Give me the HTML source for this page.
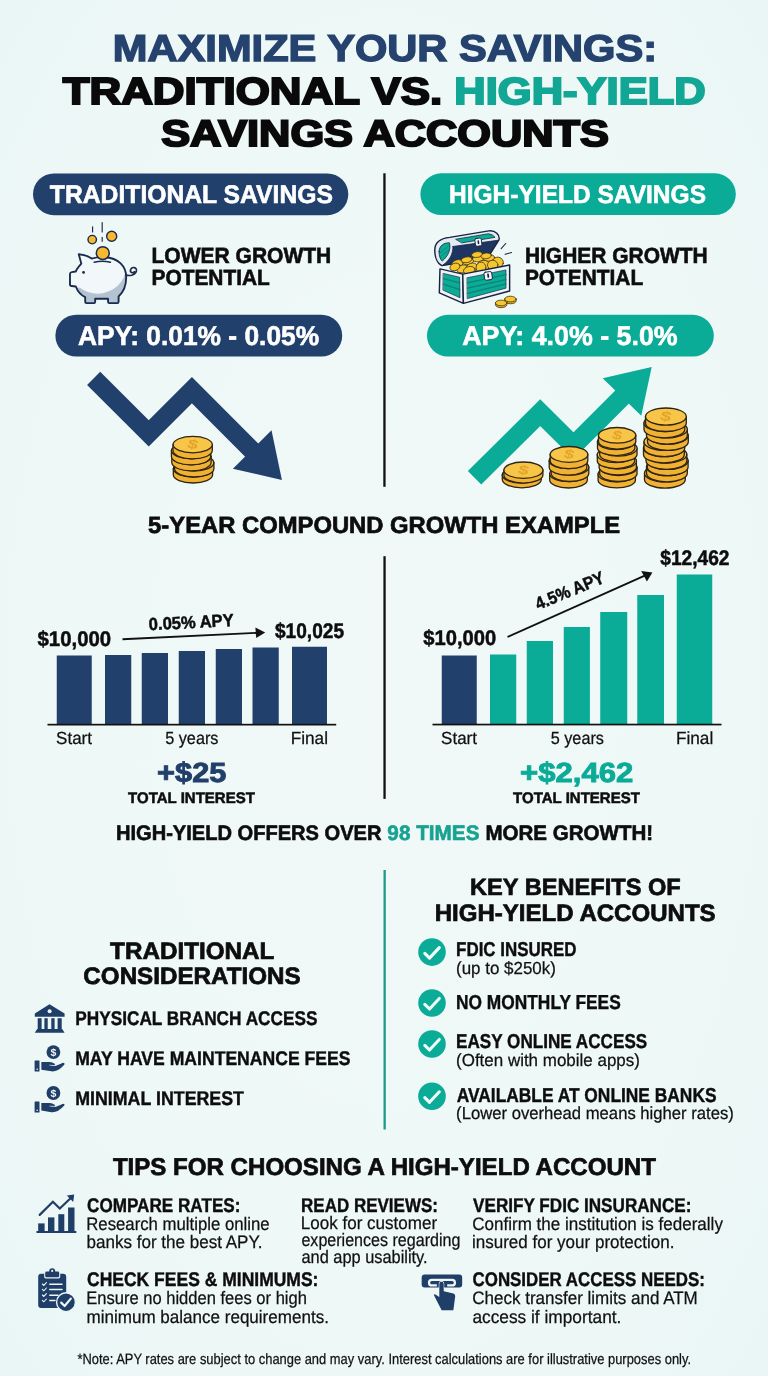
<!DOCTYPE html>
<html lang="en"><head><meta charset="utf-8"><title>Maximize Your Savings: Traditional vs. High-Yield Savings Accounts</title>
<style>html,body{margin:0;padding:0;background:#ebf5f6;}body{width:768px;height:1376px;overflow:hidden;font-family:"Liberation Sans", sans-serif;}svg text{white-space:pre;}</style>
</head><body>
<svg width="768" height="1376" viewBox="0 0 768 1376" font-family='"Liberation Sans", sans-serif' style="display:block;text-rendering:geometricPrecision">
<defs>
<radialGradient id="bg" cx="50%" cy="50%" r="75%">
<stop offset="0" stop-color="#f0f9f8"/><stop offset="0.6" stop-color="#eef8f7"/><stop offset="1" stop-color="#e9f5f5"/>
</radialGradient>
</defs>
<rect width="768" height="1376" fill="url(#bg)"/>
<text x="112.89" y="60.80" font-size="37.35" font-weight="bold" fill="#25436e" textLength="544.13" lengthAdjust="spacingAndGlyphs" stroke="#25436e" stroke-width="1.4" stroke-linejoin="miter" stroke-miterlimit="2.5">MAXIMIZE YOUR SAVINGS:</text>
<text x="62.66" y="103.60" font-size="37.65" font-weight="bold" fill="#0a0a0a" textLength="379.55" lengthAdjust="spacingAndGlyphs" stroke="#0a0a0a" stroke-width="2.0" stroke-linejoin="miter" stroke-miterlimit="2.5">TRADITIONAL VS.</text>
<text x="454.31" y="103.60" font-size="37.65" font-weight="bold" fill="#12a795" textLength="251.36" lengthAdjust="spacingAndGlyphs" stroke="#12a795" stroke-width="2.0" stroke-linejoin="miter" stroke-miterlimit="2.5">HIGH-YIELD</text>
<text x="161.20" y="146.40" font-size="37.06" font-weight="bold" fill="#0a0a0a" textLength="447.80" lengthAdjust="spacingAndGlyphs" stroke="#0a0a0a" stroke-width="2.0" stroke-linejoin="miter" stroke-miterlimit="2.5">SAVINGS ACCOUNTS</text>
<rect x="383.3" y="173.3" width="2.3" height="313.5" fill="#111"/>
<rect x="383.4" y="556.2" width="2.3" height="242.7" fill="#111"/>
<rect x="383.5" y="870" width="2.3" height="259.5" fill="#1f9a8a"/>
<rect x="33" y="173.4" width="315.3" height="41.8" rx="20.9" fill="#21406c"/>
<text x="49.85" y="203.30" font-size="25.29" font-weight="bold" fill="#fff" textLength="283.10" lengthAdjust="spacingAndGlyphs" stroke="#fff" stroke-width="0.6" stroke-linejoin="miter" stroke-miterlimit="2.5">TRADITIONAL SAVINGS</text>
<rect x="420.4" y="173.3" width="315.4" height="41.7" rx="20.8" fill="#0aab97"/>
<text x="449.05" y="203.10" font-size="25.29" font-weight="bold" fill="#fff" textLength="256.94" lengthAdjust="spacingAndGlyphs" stroke="#fff" stroke-width="0.6" stroke-linejoin="miter" stroke-miterlimit="2.5">HIGH-YIELD SAVINGS</text>
<text x="151.48" y="262.50" font-size="21.95" font-weight="bold" fill="#0d0d0d" textLength="179.83" lengthAdjust="spacingAndGlyphs" stroke="#0d0d0d" stroke-width="0.6" stroke-linejoin="miter" stroke-miterlimit="2.5">LOWER GROWTH</text>
<text x="151.49" y="284.90" font-size="21.95" font-weight="bold" fill="#0d0d0d" textLength="118.37" lengthAdjust="spacingAndGlyphs" stroke="#0d0d0d" stroke-width="0.6" stroke-linejoin="miter" stroke-miterlimit="2.5">POTENTIAL</text>
<text x="524.89" y="262.50" font-size="21.95" font-weight="bold" fill="#0d0d0d" textLength="182.82" lengthAdjust="spacingAndGlyphs" stroke="#0d0d0d" stroke-width="0.6" stroke-linejoin="miter" stroke-miterlimit="2.5">HIGHER GROWTH</text>
<text x="524.89" y="284.90" font-size="21.95" font-weight="bold" fill="#0d0d0d" textLength="118.27" lengthAdjust="spacingAndGlyphs" stroke="#0d0d0d" stroke-width="0.6" stroke-linejoin="miter" stroke-miterlimit="2.5">POTENTIAL</text>
<rect x="55.4" y="314.7" width="286.8" height="41.9" rx="20.9" fill="#21406c"/>
<text x="77.94" y="344.70" font-size="27.03" font-weight="bold" fill="#fff" textLength="241.24" lengthAdjust="spacingAndGlyphs" stroke="#fff" stroke-width="0.6" stroke-linejoin="miter" stroke-miterlimit="2.5">APY: 0.01% - 0.05%</text>
<rect x="427" y="314.8" width="286.8" height="41.8" rx="20.9" fill="#0aab97"/>
<text x="462.23" y="344.70" font-size="27.03" font-weight="bold" fill="#fff" textLength="215.41" lengthAdjust="spacingAndGlyphs" stroke="#fff" stroke-width="0.6" stroke-linejoin="miter" stroke-miterlimit="2.5">APY: 4.0% - 5.0%</text>
<g transform="translate(60 215) scale(0.11719)" stroke-linejoin="round" stroke-linecap="round">
<clipPath id="pigc"><path d="M160,335 L182,415 C160,440 140,465 135,482 L100,488 Q85,490 85,505 L85,590 Q85,605 100,606 L135,610 C150,650 180,685 215,700 L215,740 Q215,752 227,752 L290,752 Q300,752 300,740 L300,715 L410,715 L410,740 Q410,752 422,752 L490,752 Q500,752 500,740 L500,695 C540,660 565,600 565,530 C565,440 500,365 380,360 C340,358 300,362 270,372 C240,350 200,338 160,335 Z"/></clipPath>
<path d="M160,335 L182,415 C160,440 140,465 135,482 L100,488 Q85,490 85,505 L85,590 Q85,605 100,606 L135,610 C150,650 180,685 215,700 L215,740 Q215,752 227,752 L290,752 Q300,752 300,740 L300,715 L410,715 L410,740 Q410,752 422,752 L490,752 Q500,752 500,740 L500,695 C540,660 565,600 565,530 C565,440 500,365 380,360 C340,358 300,362 270,372 C240,350 200,338 160,335 Z" fill="#b4c3d1"/>
<g clip-path="url(#pigc)"><ellipse cx="330" cy="465" rx="232" ry="205" fill="#f2f7f9" transform="rotate(-12 330 465)"/><rect x="60" y="300" width="150" height="320" fill="#f2f7f9"/></g>
<path d="M563,512 C590,520 640,520 652,478 C660,445 612,436 602,468 C596,492 622,500 634,484" fill="none" stroke="#1a2b4d" stroke-width="14"/>
<path d="M160,335 L182,415 C160,440 140,465 135,482 L100,488 Q85,490 85,505 L85,590 Q85,605 100,606 L135,610 C150,650 180,685 215,700 L215,740 Q215,752 227,752 L290,752 Q300,752 300,740 L300,715 L410,715 L410,740 Q410,752 422,752 L490,752 Q500,752 500,740 L500,695 C540,660 565,600 565,530 C565,440 500,365 380,360 C340,358 300,362 270,372 C240,350 200,338 160,335 Z" fill="none" stroke="#1a2b4d" stroke-width="16"/>
<path d="M292,403 Q360,386 430,403" fill="none" stroke="#1a2b4d" stroke-width="13"/>
<circle cx="365" cy="325" r="55" fill="#f8b832" stroke="#1a2b4d" stroke-width="13"/>
<circle cx="201" cy="490" r="12" fill="#1a2b4d"/>
<circle cx="275" cy="210" r="36" fill="#f8b832" stroke="#1a2b4d" stroke-width="12"/>
<circle cx="441" cy="181" r="43" fill="#f8b832" stroke="#1a2b4d" stroke-width="12"/>
<path d="M278,100 V145 M360,65 V145 M360,190 V225" fill="none" stroke="#1a2b4d" stroke-width="10"/>
</g>
<g transform="translate(425 222) scale(0.13021)" stroke-linejoin="round" stroke-linecap="round">
<path d="M75,215 C75,150 130,125 190,118 L490,68 C540,62 578,100 568,138 L480,278 L130,335 C95,320 75,270 75,215 Z" fill="#e3ecf1" stroke="#15233f" stroke-width="11"/>
<path d="M215,188 L560,140 L480,276 L135,333 C190,295 215,245 215,188 Z" fill="#1f3561" stroke="#15233f" stroke-width="6"/>
<path d="M108,228 C108,182 145,158 188,160 C200,210 180,260 132,300 C115,285 108,258 108,228 Z" fill="#0aab97" stroke="#15233f" stroke-width="6"/>
<path d="M118,235 L180,185 M122,262 L188,212" stroke="#0f7f70" stroke-width="6" fill="none"/>
<path d="M238,132 L488,90 Q522,94 538,118 L285,160 Z" fill="#0aab97" stroke="#15233f" stroke-width="6"/>
<rect x="385" y="125" width="50" height="60" rx="12" fill="#f2f6f8" stroke="#15233f" stroke-width="7" transform="rotate(-8 410 155)"/>
<rect x="404" y="140" width="12" height="30" rx="6" fill="#15233f" transform="rotate(-8 410 155)"/>
<ellipse cx="250" cy="320" rx="45" ry="30" transform="rotate(-15 250 320)" fill="#f6c62f" stroke="#3d3412" stroke-width="6"/><ellipse cx="330" cy="300" rx="45" ry="28" transform="rotate(-10 330 300)" fill="#f6c62f" stroke="#3d3412" stroke-width="6"/><ellipse cx="410" cy="280" rx="45" ry="26" transform="rotate(-8 410 280)" fill="#f6c62f" stroke="#3d3412" stroke-width="6"/><ellipse cx="490" cy="275" rx="45" ry="26" transform="rotate(-5 490 275)" fill="#f6c62f" stroke="#3d3412" stroke-width="6"/><ellipse cx="560" cy="310" rx="42" ry="40" transform="rotate(10 560 310)" fill="#f6c62f" stroke="#3d3412" stroke-width="6"/><ellipse cx="290" cy="360" rx="48" ry="30" transform="rotate(-10 290 360)" fill="#f6c62f" stroke="#3d3412" stroke-width="6"/><ellipse cx="360" cy="350" rx="45" ry="34" transform="rotate(-20 360 350)" fill="#f6c62f" stroke="#3d3412" stroke-width="6"/><ellipse cx="450" cy="335" rx="50" ry="40" transform="rotate(-5 450 335)" fill="#f6c62f" stroke="#3d3412" stroke-width="6"/><ellipse cx="520" cy="330" rx="40" ry="36" transform="rotate(0 520 330)" fill="#f6c62f" stroke="#3d3412" stroke-width="6"/><ellipse cx="400" cy="250" rx="42" ry="22" transform="rotate(-8 400 250)" fill="#f6c62f" stroke="#3d3412" stroke-width="6"/><ellipse cx="320" cy="290" rx="42" ry="22" transform="rotate(-10 320 290)" fill="#f6c62f" stroke="#3d3412" stroke-width="6"/><ellipse cx="230" cy="345" rx="40" ry="28" transform="rotate(-20 230 345)" fill="#f6c62f" stroke="#3d3412" stroke-width="6"/><ellipse cx="470" cy="260" rx="40" ry="22" transform="rotate(-6 470 260)" fill="#f6c62f" stroke="#3d3412" stroke-width="6"/><ellipse cx="430" cy="350" rx="38" ry="42" transform="rotate(5 430 350)" fill="#f6c62f" stroke="#3d3412" stroke-width="6"/><ellipse cx="340" cy="370" rx="45" ry="28" transform="rotate(-12 340 370)" fill="#f6c62f" stroke="#3d3412" stroke-width="6"/>
<path d="M115,360 L290,400 L295,625 L110,545 Z" fill="#eef4f6" stroke="#15233f" stroke-width="11"/>
<path d="M142,395 L266,424 L269,582 L140,524 Z" fill="#0aab97" stroke="#15233f" stroke-width="5"/>
<path d="M141,435 L267,468 M141,478 L268,520" stroke="#0e8273" stroke-width="10" fill="none"/>
<path d="M290,400 L650,330 L650,530 L295,625 Z" fill="#eef4f6" stroke="#15233f" stroke-width="11"/>
<path d="M325,428 L622,368 L622,508 L327,588 Z" fill="#0aab97" stroke="#15233f" stroke-width="5"/>
<path d="M326,468 L622,405 M326,508 L622,442 M326,548 L622,476" stroke="#0e8273" stroke-width="10" fill="none"/>
<rect x="455" y="383" width="60" height="62" rx="12" fill="#f2f6f8" stroke="#15233f" stroke-width="7" transform="rotate(-8 485 414)"/>
<rect x="479" y="395" width="13" height="34" rx="6" fill="#15233f" transform="rotate(-8 485 414)"/>
<path d="M585,205 L620,165 M615,248 L665,235" stroke="#15233f" stroke-width="8" fill="none"/>
<path d="M612,592 v14 a44,22 0 0 0 88,0 v-14 z" fill="#e9b021" stroke="#3d3412" stroke-width="6"/>
<ellipse cx="656" cy="592" rx="44" ry="22" fill="#f6c62f" stroke="#3d3412" stroke-width="6"/>
<path d="M541,622 v14 a44,22 0 0 0 88,0 v-14 z" fill="#e9b021" stroke="#3d3412" stroke-width="6"/>
<ellipse cx="585" cy="622" rx="44" ry="22" fill="#f6c62f" stroke="#3d3412" stroke-width="6"/>
</g>
<polyline points="93.65,378.35 148.75,433.25 191.9,390.2 253.5,451.8" fill="none" stroke="#21406c" stroke-width="18.6" stroke-linejoin="miter"/>
<polygon points="281.9,480 271.5,430.2 232.9,468.75" fill="#21406c"/>
<path d="M173.3,468.7 v6.0 a19.6,8.3 0 0 0 39.3,0 v-6.0 z" fill="#f1b233" stroke="#2e2412" stroke-width="1.3"/>
<ellipse cx="193.0" cy="468.7" rx="19.6" ry="8.3" fill="#f7c548" stroke="#2e2412" stroke-width="1.3"/>
<path d="M174.6,462.7 v6.0 a19.6,8.3 0 0 0 39.3,0 v-6.0 z" fill="#f1b233" stroke="#2e2412" stroke-width="1.3"/>
<ellipse cx="194.2" cy="462.7" rx="19.6" ry="8.3" fill="#f7c548" stroke="#2e2412" stroke-width="1.3"/>
<path d="M171.8,456.6 v6.0 a19.6,8.3 0 0 0 39.3,0 v-6.0 z" fill="#f1b233" stroke="#2e2412" stroke-width="1.3"/>
<ellipse cx="191.5" cy="456.6" rx="19.6" ry="8.3" fill="#f7c548" stroke="#2e2412" stroke-width="1.3"/>
<path d="M171.4,450.6 v6.0 a19.6,8.3 0 0 0 39.3,0 v-6.0 z" fill="#f1b233" stroke="#2e2412" stroke-width="1.3"/>
<ellipse cx="191.1" cy="450.6" rx="19.6" ry="8.3" fill="#f7c548" stroke="#2e2412" stroke-width="1.3"/>
<path d="M173.0,444.6 v6.0 a19.6,8.3 0 0 0 39.3,0 v-6.0 z" fill="#f1b233" stroke="#2e2412" stroke-width="1.3"/>
<ellipse cx="192.7" cy="444.6" rx="19.6" ry="8.3" fill="#f7c548" stroke="#2e2412" stroke-width="1.3"/>
<text x="192.7" y="448.7" font-size="12.8" font-weight="bold" fill="#e3a42a" text-anchor="middle" transform="translate(192.7 444.6) scale(1.45 1) rotate(12) translate(-192.7 -444.6)">$</text>
<polyline points="474.55,477.75 540.2,412.7 573.5,445.65 623,396.15" fill="none" stroke="#0aab97" stroke-width="19" stroke-linejoin="miter"/>
<polygon points="651.7,367.1 602.7,378.3 641.25,415.8" fill="#0aab97"/>
<path d="M502.3,474.9 v4.7 a19.5,8.2 0 0 0 39.0,0 v-4.7 z" fill="#f1b233" stroke="#2e2412" stroke-width="1.3"/>
<ellipse cx="521.8" cy="474.9" rx="19.5" ry="8.2" fill="#f7c548" stroke="#2e2412" stroke-width="1.3"/>
<path d="M503.9,470.2 v4.7 a19.5,8.2 0 0 0 39.0,0 v-4.7 z" fill="#f1b233" stroke="#2e2412" stroke-width="1.3"/>
<ellipse cx="523.4" cy="470.2" rx="19.5" ry="8.2" fill="#f7c548" stroke="#2e2412" stroke-width="1.3"/>
<text x="523.4" y="474.3" font-size="12.7" font-weight="bold" fill="#e3a42a" text-anchor="middle" transform="translate(523.4 470.2) scale(1.45 1) rotate(12) translate(-523.4 -470.2)">$</text>
<path d="M549.7,473.7 v6.4 a18.8,7.9 0 0 0 37.6,0 v-6.4 z" fill="#f1b233" stroke="#2e2412" stroke-width="1.3"/>
<ellipse cx="568.5" cy="473.7" rx="18.8" ry="7.9" fill="#f7c548" stroke="#2e2412" stroke-width="1.3"/>
<path d="M551.2,467.2 v6.4 a18.8,7.9 0 0 0 37.6,0 v-6.4 z" fill="#f1b233" stroke="#2e2412" stroke-width="1.3"/>
<ellipse cx="570.0" cy="467.2" rx="18.8" ry="7.9" fill="#f7c548" stroke="#2e2412" stroke-width="1.3"/>
<path d="M549.2,460.8 v6.4 a18.8,7.9 0 0 0 37.6,0 v-6.4 z" fill="#f1b233" stroke="#2e2412" stroke-width="1.3"/>
<ellipse cx="568.0" cy="460.8" rx="18.8" ry="7.9" fill="#f7c548" stroke="#2e2412" stroke-width="1.3"/>
<path d="M550.2,454.4 v6.4 a18.8,7.9 0 0 0 37.6,0 v-6.4 z" fill="#f1b233" stroke="#2e2412" stroke-width="1.3"/>
<ellipse cx="569.0" cy="454.4" rx="18.8" ry="7.9" fill="#f7c548" stroke="#2e2412" stroke-width="1.3"/>
<text x="569.0" y="458.3" font-size="12.2" font-weight="bold" fill="#e3a42a" text-anchor="middle" transform="translate(569.0 454.4) scale(1.45 1) rotate(12) translate(-569.0 -454.4)">$</text>
<path d="M598.1,474.2 v6.5 a18.7,7.8 0 0 0 37.3,0 v-6.5 z" fill="#f1b233" stroke="#2e2412" stroke-width="1.3"/>
<ellipse cx="616.8" cy="474.2" rx="18.7" ry="7.8" fill="#f7c548" stroke="#2e2412" stroke-width="1.3"/>
<path d="M599.7,467.7 v6.5 a18.7,7.8 0 0 0 37.3,0 v-6.5 z" fill="#f1b233" stroke="#2e2412" stroke-width="1.3"/>
<ellipse cx="618.4" cy="467.7" rx="18.7" ry="7.8" fill="#f7c548" stroke="#2e2412" stroke-width="1.3"/>
<path d="M599.1,461.2 v6.5 a18.7,7.8 0 0 0 37.3,0 v-6.5 z" fill="#f1b233" stroke="#2e2412" stroke-width="1.3"/>
<ellipse cx="617.8" cy="461.2" rx="18.7" ry="7.8" fill="#f7c548" stroke="#2e2412" stroke-width="1.3"/>
<path d="M597.3,454.8 v6.5 a18.7,7.8 0 0 0 37.3,0 v-6.5 z" fill="#f1b233" stroke="#2e2412" stroke-width="1.3"/>
<ellipse cx="615.9" cy="454.8" rx="18.7" ry="7.8" fill="#f7c548" stroke="#2e2412" stroke-width="1.3"/>
<path d="M599.7,448.3 v6.5 a18.7,7.8 0 0 0 37.3,0 v-6.5 z" fill="#f1b233" stroke="#2e2412" stroke-width="1.3"/>
<ellipse cx="618.4" cy="448.3" rx="18.7" ry="7.8" fill="#f7c548" stroke="#2e2412" stroke-width="1.3"/>
<path d="M597.5,441.8 v6.5 a18.7,7.8 0 0 0 37.3,0 v-6.5 z" fill="#f1b233" stroke="#2e2412" stroke-width="1.3"/>
<ellipse cx="616.1" cy="441.8" rx="18.7" ry="7.8" fill="#f7c548" stroke="#2e2412" stroke-width="1.3"/>
<path d="M598.5,435.3 v6.5 a18.7,7.8 0 0 0 37.3,0 v-6.5 z" fill="#f1b233" stroke="#2e2412" stroke-width="1.3"/>
<ellipse cx="617.1" cy="435.3" rx="18.7" ry="7.8" fill="#f7c548" stroke="#2e2412" stroke-width="1.3"/>
<text x="617.1" y="439.2" font-size="12.1" font-weight="bold" fill="#e3a42a" text-anchor="middle" transform="translate(617.1 435.3) scale(1.45 1) rotate(12) translate(-617.1 -435.3)">$</text>
<path d="M644.5,473.3 v6.3 a20.4,8.6 0 0 0 40.8,0 v-6.3 z" fill="#f1b233" stroke="#2e2412" stroke-width="1.3"/>
<ellipse cx="664.9" cy="473.3" rx="20.4" ry="8.6" fill="#f7c548" stroke="#2e2412" stroke-width="1.3"/>
<path d="M646.5,467.0 v6.3 a20.4,8.6 0 0 0 40.8,0 v-6.3 z" fill="#f1b233" stroke="#2e2412" stroke-width="1.3"/>
<ellipse cx="666.9" cy="467.0" rx="20.4" ry="8.6" fill="#f7c548" stroke="#2e2412" stroke-width="1.3"/>
<path d="M647.3,460.7 v6.3 a20.4,8.6 0 0 0 40.8,0 v-6.3 z" fill="#f1b233" stroke="#2e2412" stroke-width="1.3"/>
<ellipse cx="667.7" cy="460.7" rx="20.4" ry="8.6" fill="#f7c548" stroke="#2e2412" stroke-width="1.3"/>
<path d="M646.0,454.4 v6.3 a20.4,8.6 0 0 0 40.8,0 v-6.3 z" fill="#f1b233" stroke="#2e2412" stroke-width="1.3"/>
<ellipse cx="666.4" cy="454.4" rx="20.4" ry="8.6" fill="#f7c548" stroke="#2e2412" stroke-width="1.3"/>
<path d="M643.5,448.1 v6.3 a20.4,8.6 0 0 0 40.8,0 v-6.3 z" fill="#f1b233" stroke="#2e2412" stroke-width="1.3"/>
<ellipse cx="663.9" cy="448.1" rx="20.4" ry="8.6" fill="#f7c548" stroke="#2e2412" stroke-width="1.3"/>
<path d="M644.0,441.8 v6.3 a20.4,8.6 0 0 0 40.8,0 v-6.3 z" fill="#f1b233" stroke="#2e2412" stroke-width="1.3"/>
<ellipse cx="664.4" cy="441.8" rx="20.4" ry="8.6" fill="#f7c548" stroke="#2e2412" stroke-width="1.3"/>
<path d="M647.5,435.5 v6.3 a20.4,8.6 0 0 0 40.8,0 v-6.3 z" fill="#f1b233" stroke="#2e2412" stroke-width="1.3"/>
<ellipse cx="667.9" cy="435.5" rx="20.4" ry="8.6" fill="#f7c548" stroke="#2e2412" stroke-width="1.3"/>
<path d="M646.5,429.2 v6.3 a20.4,8.6 0 0 0 40.8,0 v-6.3 z" fill="#f1b233" stroke="#2e2412" stroke-width="1.3"/>
<ellipse cx="666.9" cy="429.2" rx="20.4" ry="8.6" fill="#f7c548" stroke="#2e2412" stroke-width="1.3"/>
<path d="M644.0,422.9 v6.3 a20.4,8.6 0 0 0 40.8,0 v-6.3 z" fill="#f1b233" stroke="#2e2412" stroke-width="1.3"/>
<ellipse cx="664.4" cy="422.9" rx="20.4" ry="8.6" fill="#f7c548" stroke="#2e2412" stroke-width="1.3"/>
<path d="M645.5,416.6 v6.3 a20.4,8.6 0 0 0 40.8,0 v-6.3 z" fill="#f1b233" stroke="#2e2412" stroke-width="1.3"/>
<ellipse cx="665.9" cy="416.6" rx="20.4" ry="8.6" fill="#f7c548" stroke="#2e2412" stroke-width="1.3"/>
<text x="665.9" y="420.9" font-size="13.3" font-weight="bold" fill="#e3a42a" text-anchor="middle" transform="translate(665.9 416.6) scale(1.45 1) rotate(12) translate(-665.9 -416.6)">$</text>
<text x="148.14" y="532.95" font-size="23.40" font-weight="bold" fill="#0d0d0d" textLength="471.95" lengthAdjust="spacingAndGlyphs" stroke="#0d0d0d" stroke-width="0.7" stroke-linejoin="miter" stroke-miterlimit="2.5">5-YEAR COMPOUND GROWTH EXAMPLE</text>
<rect x="56.75" y="655.5" width="35.0" height="69.10000000000002" fill="#21406c"/>
<rect x="105" y="655" width="26.25" height="69.60000000000002" fill="#21406c"/>
<rect x="141.75" y="653" width="26.25" height="71.60000000000002" fill="#21406c"/>
<rect x="178.75" y="651" width="26.25" height="73.60000000000002" fill="#21406c"/>
<rect x="215.75" y="649" width="26.25" height="75.60000000000002" fill="#21406c"/>
<rect x="252.5" y="647.5" width="26.25" height="77.10000000000002" fill="#21406c"/>
<rect x="292" y="646.75" width="35" height="77.85000000000002" fill="#21406c"/>
<rect x="47.5" y="723.8" width="288.7" height="1.7" fill="#111"/>
<text x="37.50" y="645.95" font-size="21.08" font-weight="bold" fill="#0d0d0d" textLength="73.62" lengthAdjust="spacingAndGlyphs" stroke="#0d0d0d" stroke-width="0.5" stroke-linejoin="miter" stroke-miterlimit="2.5">$10,000</text>
<text x="275.01" y="637.75" font-size="21.08" font-weight="bold" fill="#0d0d0d" textLength="69.06" lengthAdjust="spacingAndGlyphs" stroke="#0d0d0d" stroke-width="0.5" stroke-linejoin="miter" stroke-miterlimit="2.5">$10,025</text>
<g transform="rotate(-3 191 629)">
<text x="149.09" y="628.15" font-size="17.44" font-weight="bold" fill="#0d0d0d" textLength="84.95" lengthAdjust="spacingAndGlyphs" stroke="#0d0d0d" stroke-width="0.5" stroke-linejoin="miter" stroke-miterlimit="2.5">0.05% APY</text>
</g>
<path d="M122.5,639.2 L260,632.7" stroke="#111" stroke-width="1.9" fill="none"/>
<polygon points="265.2,632.5 255.4,627.4 256.2,638.1" fill="#111"/>
<text x="56.11" y="743.88" font-size="17.54" font-weight="normal" fill="#111" textLength="35.88" lengthAdjust="spacingAndGlyphs" stroke="#111" stroke-width="0.25" stroke-linejoin="miter" stroke-miterlimit="2.5">Start</text>
<text x="165.23" y="743.88" font-size="17.54" font-weight="normal" fill="#111" textLength="53.21" lengthAdjust="spacingAndGlyphs" stroke="#111" stroke-width="0.25" stroke-linejoin="miter" stroke-miterlimit="2.5">5 years</text>
<text x="290.70" y="743.88" font-size="17.54" font-weight="normal" fill="#111" textLength="37.33" lengthAdjust="spacingAndGlyphs" stroke="#111" stroke-width="0.25" stroke-linejoin="miter" stroke-miterlimit="2.5">Final</text>
<text x="157.14" y="782.05" font-size="27.76" font-weight="bold" fill="#223f6b" textLength="69.25" lengthAdjust="spacingAndGlyphs" stroke="#223f6b" stroke-width="0.9" stroke-linejoin="miter" stroke-miterlimit="2.5">+$25</text>
<text x="128.10" y="803.25" font-size="15.26" font-weight="bold" fill="#0d0d0d" textLength="126.80" lengthAdjust="spacingAndGlyphs" stroke="#0d0d0d" stroke-width="0.5" stroke-linejoin="miter" stroke-miterlimit="2.5">TOTAL INTEREST</text>
<rect x="441.75" y="655.5" width="35.0" height="69.0" fill="#21406c"/>
<rect x="490" y="654.5" width="26.25" height="70.0" fill="#0aab97"/>
<rect x="526.75" y="641" width="26.25" height="83.5" fill="#0aab97"/>
<rect x="563.75" y="627" width="26.149999999999977" height="97.5" fill="#0aab97"/>
<rect x="600.25" y="612" width="27.0" height="112.5" fill="#0aab97"/>
<rect x="637.25" y="595" width="26.75" height="129.5" fill="#0aab97"/>
<rect x="676.75" y="574.5" width="35.5" height="150.0" fill="#0aab97"/>
<rect x="432.5" y="723.7" width="289" height="1.7" fill="#111"/>
<text x="423.25" y="645.25" font-size="21.08" font-weight="bold" fill="#0d0d0d" textLength="72.86" lengthAdjust="spacingAndGlyphs" stroke="#0d0d0d" stroke-width="0.5" stroke-linejoin="miter" stroke-miterlimit="2.5">$10,000</text>
<text x="660.26" y="564.95" font-size="21.08" font-weight="bold" fill="#0d0d0d" textLength="69.25" lengthAdjust="spacingAndGlyphs" stroke="#0d0d0d" stroke-width="0.5" stroke-linejoin="miter" stroke-miterlimit="2.5">$12,462</text>
<path d="M507.5,637 L647,574.6" stroke="#111" stroke-width="1.9" fill="none"/>
<polygon points="652.4,572.4 641.2,571 646.9,581.6" fill="#111"/>
<g transform="rotate(-22.5 571.9 596.2)">
<text x="535.51" y="596.15" font-size="17.44" font-weight="bold" fill="#0d0d0d" textLength="72.80" lengthAdjust="spacingAndGlyphs" stroke="#0d0d0d" stroke-width="0.5" stroke-linejoin="miter" stroke-miterlimit="2.5">4.5% APY</text>
</g>
<text x="441.11" y="743.77" font-size="17.54" font-weight="normal" fill="#111" textLength="35.88" lengthAdjust="spacingAndGlyphs" stroke="#111" stroke-width="0.25" stroke-linejoin="miter" stroke-miterlimit="2.5">Start</text>
<text x="550.73" y="743.77" font-size="17.54" font-weight="normal" fill="#111" textLength="53.21" lengthAdjust="spacingAndGlyphs" stroke="#111" stroke-width="0.25" stroke-linejoin="miter" stroke-miterlimit="2.5">5 years</text>
<text x="675.95" y="743.77" font-size="17.54" font-weight="normal" fill="#111" textLength="37.33" lengthAdjust="spacingAndGlyphs" stroke="#111" stroke-width="0.25" stroke-linejoin="miter" stroke-miterlimit="2.5">Final</text>
<text x="520.13" y="782.05" font-size="27.76" font-weight="bold" fill="#0aab97" textLength="113.09" lengthAdjust="spacingAndGlyphs" stroke="#0aab97" stroke-width="0.9" stroke-linejoin="miter" stroke-miterlimit="2.5">+$2,462</text>
<text x="513.10" y="803.25" font-size="15.26" font-weight="bold" fill="#0d0d0d" textLength="126.80" lengthAdjust="spacingAndGlyphs" stroke="#0d0d0d" stroke-width="0.5" stroke-linejoin="miter" stroke-miterlimit="2.5">TOTAL INTEREST</text>
<text x="115.94" y="839.70" font-size="20.93" font-weight="bold" fill="#0d0d0d" textLength="265.48" lengthAdjust="spacingAndGlyphs" stroke="#0d0d0d" stroke-width="0.6" stroke-linejoin="miter" stroke-miterlimit="2.5">HIGH-YIELD OFFERS OVER</text>
<text x="387.37" y="839.70" font-size="20.93" font-weight="bold" fill="#18a291" textLength="92.12" lengthAdjust="spacingAndGlyphs" stroke="#18a291" stroke-width="0.6" stroke-linejoin="miter" stroke-miterlimit="2.5">98 TIMES</text>
<text x="485.41" y="839.70" font-size="20.93" font-weight="bold" fill="#0d0d0d" textLength="167.75" lengthAdjust="spacingAndGlyphs" stroke="#0d0d0d" stroke-width="0.6" stroke-linejoin="miter" stroke-miterlimit="2.5">MORE GROWTH!</text>
<text x="110.11" y="958.65" font-size="23.69" font-weight="bold" fill="#0d0d0d" textLength="164.32" lengthAdjust="spacingAndGlyphs" stroke="#0d0d0d" stroke-width="0.7" stroke-linejoin="miter" stroke-miterlimit="2.5">TRADITIONAL</text>
<text x="83.38" y="983.65" font-size="23.69" font-weight="bold" fill="#0d0d0d" textLength="217.23" lengthAdjust="spacingAndGlyphs" stroke="#0d0d0d" stroke-width="0.7" stroke-linejoin="miter" stroke-miterlimit="2.5">CONSIDERATIONS</text>
<text x="75.24" y="1024.80" font-size="19.77" font-weight="bold" fill="#0d0d0d" textLength="242.25" lengthAdjust="spacingAndGlyphs" stroke="#0d0d0d" stroke-width="0.4" stroke-linejoin="miter" stroke-miterlimit="2.5">PHYSICAL BRANCH ACCESS</text>
<text x="75.21" y="1065.30" font-size="19.77" font-weight="bold" fill="#0d0d0d" textLength="275.30" lengthAdjust="spacingAndGlyphs" stroke="#0d0d0d" stroke-width="0.4" stroke-linejoin="miter" stroke-miterlimit="2.5">MAY HAVE MAINTENANCE FEES</text>
<text x="75.20" y="1105.40" font-size="19.77" font-weight="bold" fill="#0d0d0d" textLength="168.81" lengthAdjust="spacingAndGlyphs" stroke="#0d0d0d" stroke-width="0.4" stroke-linejoin="miter" stroke-miterlimit="2.5">MINIMAL INTEREST</text>
<g fill="#1f3e68">
<path d="M49.5,1004.3 L64.6,1013.4 V1016.8 H34.8 V1013.4 Z"/>
<rect x="37.7" y="1018.2" width="3.9" height="11"/><rect x="44.4" y="1018.2" width="3.3" height="11"/>
<rect x="51.3" y="1018.2" width="3.3" height="11"/><rect x="57.6" y="1018.2" width="4.1" height="11"/>
<path d="M37.2,1029 H62.2 L64.6,1032.8 H34.8 Z"/>
<circle cx="49.6" cy="1011.3" r="2" fill="#eef6f7"/>
</g>
<g transform="translate(0 0)" fill="#1f3e68">
<circle cx="53.4" cy="1052.1" r="6.9"/>
<text x="53.4" y="1055.9" font-size="10.5" font-weight="bold" fill="#eef6f7" text-anchor="middle">$</text>
<rect x="34.6" y="1060.6" width="4.9" height="10.9" rx="0.5"/>
<circle cx="37.2" cy="1069.3" r="0.8" fill="#eef6f7"/>
<g transform="translate(25 995) scale(0.0909)"><path d="M180,737 H272 Q300,737 326,757 Q342,772 316,776 L282,776 Q335,792 418,746 Q442,748 432,766 Q362,846 290,840 L180,822 Z"/>
<path d="M268,772 Q310,780 350,770" stroke="#eef6f7" stroke-width="7" fill="none"/></g>
</g>
<g transform="translate(0 40.9)" fill="#1f3e68">
<circle cx="53.4" cy="1052.1" r="6.9"/>
<text x="53.4" y="1055.9" font-size="10.5" font-weight="bold" fill="#eef6f7" text-anchor="middle">$</text>
<rect x="34.6" y="1060.6" width="4.9" height="10.9" rx="0.5"/>
<circle cx="37.2" cy="1069.3" r="0.8" fill="#eef6f7"/>
<g transform="translate(25 995) scale(0.0909)"><path d="M180,737 H272 Q300,737 326,757 Q342,772 316,776 L282,776 Q335,792 418,746 Q442,748 432,766 Q362,846 290,840 L180,822 Z"/>
<path d="M268,772 Q310,780 350,770" stroke="#eef6f7" stroke-width="7" fill="none"/></g>
</g>
<text x="470.06" y="894.95" font-size="23.55" font-weight="bold" fill="#0d0d0d" textLength="210.72" lengthAdjust="spacingAndGlyphs" stroke="#0d0d0d" stroke-width="0.7" stroke-linejoin="miter" stroke-miterlimit="2.5">KEY BENEFITS OF</text>
<text x="434.73" y="920.65" font-size="23.69" font-weight="bold" fill="#0d0d0d" textLength="280.89" lengthAdjust="spacingAndGlyphs" stroke="#0d0d0d" stroke-width="0.7" stroke-linejoin="miter" stroke-miterlimit="2.5">HIGH-YIELD ACCOUNTS</text>
<circle cx="432" cy="952.1" r="13.8" fill="#0aab97"/>
<path d="M424.8,953.4 L429.5,958.1 L439.3,947.6" fill="none" stroke="#f2fbfa" stroke-width="3.1" stroke-linecap="round" stroke-linejoin="round"/>
<circle cx="432" cy="1003" r="13.8" fill="#0aab97"/>
<path d="M424.8,1004.3 L429.5,1009 L439.3,998.5" fill="none" stroke="#f2fbfa" stroke-width="3.1" stroke-linecap="round" stroke-linejoin="round"/>
<circle cx="432" cy="1044" r="13.8" fill="#0aab97"/>
<path d="M424.8,1045.3 L429.5,1050 L439.3,1039.5" fill="none" stroke="#f2fbfa" stroke-width="3.1" stroke-linecap="round" stroke-linejoin="round"/>
<circle cx="432" cy="1096.3" r="13.8" fill="#0aab97"/>
<path d="M424.8,1097.6 L429.5,1102.3 L439.3,1091.8" fill="none" stroke="#f2fbfa" stroke-width="3.1" stroke-linecap="round" stroke-linejoin="round"/>
<text x="456.06" y="956.10" font-size="20.06" font-weight="bold" fill="#0d0d0d" textLength="120.45" lengthAdjust="spacingAndGlyphs" stroke="#0d0d0d" stroke-width="0.4" stroke-linejoin="miter" stroke-miterlimit="2.5">FDIC INSURED</text>
<text x="456.07" y="974.27" font-size="17.44" font-weight="normal" fill="#111" textLength="99.83" lengthAdjust="spacingAndGlyphs" stroke="#111" stroke-width="0.25" stroke-linejoin="miter" stroke-miterlimit="2.5">(up to $250k)</text>
<text x="456.03" y="1009.40" font-size="20.20" font-weight="bold" fill="#0d0d0d" textLength="164.70" lengthAdjust="spacingAndGlyphs" stroke="#0d0d0d" stroke-width="0.4" stroke-linejoin="miter" stroke-miterlimit="2.5">NO MONTHLY FEES</text>
<text x="456.04" y="1048.00" font-size="20.06" font-weight="bold" fill="#0d0d0d" textLength="191.18" lengthAdjust="spacingAndGlyphs" stroke="#0d0d0d" stroke-width="0.4" stroke-linejoin="miter" stroke-miterlimit="2.5">EASY ONLINE ACCESS</text>
<text x="456.06" y="1066.28" font-size="17.44" font-weight="normal" fill="#111" textLength="183.84" lengthAdjust="spacingAndGlyphs" stroke="#111" stroke-width="0.25" stroke-linejoin="miter" stroke-miterlimit="2.5">(Often with mobile apps)</text>
<text x="456.77" y="1101.60" font-size="20.06" font-weight="bold" fill="#0d0d0d" textLength="259.73" lengthAdjust="spacingAndGlyphs" stroke="#0d0d0d" stroke-width="0.4" stroke-linejoin="miter" stroke-miterlimit="2.5">AVAILABLE AT ONLINE BANKS</text>
<text x="456.08" y="1119.38" font-size="17.44" font-weight="normal" fill="#111" textLength="277.80" lengthAdjust="spacingAndGlyphs" stroke="#111" stroke-width="0.25" stroke-linejoin="miter" stroke-miterlimit="2.5">(Lower overhead means higher rates)</text>
<text x="112.91" y="1174.75" font-size="24.27" font-weight="bold" fill="#0d0d0d" textLength="543.01" lengthAdjust="spacingAndGlyphs" stroke="#0d0d0d" stroke-width="0.7" stroke-linejoin="miter" stroke-miterlimit="2.5">TIPS FOR CHOOSING A HIGH-YIELD ACCOUNT</text>
<text x="87.02" y="1211.80" font-size="19.77" font-weight="bold" fill="#0d0d0d" textLength="153.42" lengthAdjust="spacingAndGlyphs" stroke="#0d0d0d" stroke-width="0.4" stroke-linejoin="miter" stroke-miterlimit="2.5">COMPARE RATES:</text>
<text x="86.24" y="1229.88" font-size="18.04" font-weight="normal" fill="#111" textLength="183.35" lengthAdjust="spacingAndGlyphs" stroke="#111" stroke-width="0.25" stroke-linejoin="miter" stroke-miterlimit="2.5">Research multiple online</text>
<text x="86.52" y="1248.38" font-size="18.04" font-weight="normal" fill="#111" textLength="175.88" lengthAdjust="spacingAndGlyphs" stroke="#111" stroke-width="0.25" stroke-linejoin="miter" stroke-miterlimit="2.5">banks for the best APY.</text>
<text x="87.00" y="1286.30" font-size="19.77" font-weight="bold" fill="#0d0d0d" textLength="231.46" lengthAdjust="spacingAndGlyphs" stroke="#0d0d0d" stroke-width="0.4" stroke-linejoin="miter" stroke-miterlimit="2.5">CHECK FEES &amp; MINIMUMS:</text>
<text x="86.26" y="1304.38" font-size="18.04" font-weight="normal" fill="#111" textLength="220.66" lengthAdjust="spacingAndGlyphs" stroke="#111" stroke-width="0.25" stroke-linejoin="miter" stroke-miterlimit="2.5">Ensure no hidden fees or high</text>
<text x="86.47" y="1322.88" font-size="18.04" font-weight="normal" fill="#111" textLength="242.45" lengthAdjust="spacingAndGlyphs" stroke="#111" stroke-width="0.25" stroke-linejoin="miter" stroke-miterlimit="2.5">minimum balance requirements.</text>
<text x="301.05" y="1211.80" font-size="19.77" font-weight="bold" fill="#0d0d0d" textLength="136.88" lengthAdjust="spacingAndGlyphs" stroke="#0d0d0d" stroke-width="0.4" stroke-linejoin="miter" stroke-miterlimit="2.5">READ REVIEWS:</text>
<text x="300.72" y="1229.38" font-size="18.04" font-weight="normal" fill="#111" textLength="136.43" lengthAdjust="spacingAndGlyphs" stroke="#111" stroke-width="0.25" stroke-linejoin="miter" stroke-miterlimit="2.5">Look for customer</text>
<text x="301.44" y="1245.88" font-size="18.04" font-weight="normal" fill="#111" textLength="158.94" lengthAdjust="spacingAndGlyphs" stroke="#111" stroke-width="0.25" stroke-linejoin="miter" stroke-miterlimit="2.5">experiences regarding</text>
<text x="301.43" y="1263.38" font-size="18.04" font-weight="normal" fill="#111" textLength="126.21" lengthAdjust="spacingAndGlyphs" stroke="#111" stroke-width="0.25" stroke-linejoin="miter" stroke-miterlimit="2.5">and app usability.</text>
<text x="473.07" y="1211.80" font-size="19.77" font-weight="bold" fill="#0d0d0d" textLength="218.36" lengthAdjust="spacingAndGlyphs" stroke="#0d0d0d" stroke-width="0.4" stroke-linejoin="miter" stroke-miterlimit="2.5">VERIFY FDIC INSURANCE:</text>
<text x="472.27" y="1229.88" font-size="18.04" font-weight="normal" fill="#111" textLength="250.63" lengthAdjust="spacingAndGlyphs" stroke="#111" stroke-width="0.25" stroke-linejoin="miter" stroke-miterlimit="2.5">Confirm the institution is federally</text>
<text x="471.98" y="1248.38" font-size="18.04" font-weight="normal" fill="#111" textLength="202.44" lengthAdjust="spacingAndGlyphs" stroke="#111" stroke-width="0.25" stroke-linejoin="miter" stroke-miterlimit="2.5">insured for your protection.</text>
<text x="472.52" y="1286.30" font-size="19.77" font-weight="bold" fill="#0d0d0d" textLength="232.39" lengthAdjust="spacingAndGlyphs" stroke="#0d0d0d" stroke-width="0.4" stroke-linejoin="miter" stroke-miterlimit="2.5">CONSIDER ACCESS NEEDS:</text>
<text x="472.27" y="1304.38" font-size="18.04" font-weight="normal" fill="#111" textLength="225.52" lengthAdjust="spacingAndGlyphs" stroke="#111" stroke-width="0.25" stroke-linejoin="miter" stroke-miterlimit="2.5">Check transfer limits and ATM</text>
<text x="472.39" y="1322.88" font-size="18.04" font-weight="normal" fill="#111" textLength="149.03" lengthAdjust="spacingAndGlyphs" stroke="#111" stroke-width="0.25" stroke-linejoin="miter" stroke-miterlimit="2.5">access if important.</text>
<text x="77.40" y="1363.88" font-size="14.94" font-weight="normal" fill="#111" textLength="613.65" lengthAdjust="spacingAndGlyphs" stroke="#111" stroke-width="0.25" stroke-linejoin="miter" stroke-miterlimit="2.5">*Note: APY rates are subject to change and may vary. Interest calculations are for illustrative purposes only.</text>
<g fill="#1f3e68">
<rect x="36.3" y="1231" width="40.2" height="2.1" rx="0.8"/>
<rect x="38.2" y="1223.4" width="6.4" height="8.5"/><rect x="48" y="1217.4" width="6.4" height="14.5"/>
<rect x="58.3" y="1214.2" width="6" height="17.5"/><rect x="68.1" y="1207.5" width="6.4" height="24.3"/>
<polyline points="39.7,1214.9 52.9,1201.7 59.8,1208.5 71.6,1197.2" fill="none" stroke="#1f3e68" stroke-width="2.2" stroke-linecap="round" stroke-linejoin="miter"/>
<polygon points="74.2,1194.6 66.8,1195.6 73.2,1202"/>
</g>
<g fill="#1f3e68">
<rect x="38.2" y="1273.7" width="28" height="34.3" rx="3"/>
<rect x="44.2" y="1272.6" width="16" height="5.8" rx="1.6" fill="#eef6f7"/>
<rect x="45.2" y="1271.6" width="14" height="5.7" rx="1.3"/>
<circle cx="52.2" cy="1271.2" r="3"/>
<circle cx="52.2" cy="1270.9" r="1.05" fill="#eef6f7"/>
<g stroke="#eef6f7" stroke-width="1.5" fill="none" stroke-linecap="round">
<path d="M49.8,1284.2 H62 M49.8,1289.6 H62 M49.8,1295.2 H58 M49.8,1300.6 H55"/>
<path d="M42.4,1284 l1.4,1.4 l2.6,-2.8 M42.4,1289.4 l1.4,1.4 l2.6,-2.8 M42.4,1295 l1.4,1.4 l2.6,-2.8 M42.4,1300.4 l1.4,1.4 l2.6,-2.8" stroke-width="1.1"/>
</g>
<circle cx="66" cy="1302.2" r="9.4" stroke="#eef6f7" stroke-width="1.4"/>
<path d="M61.2,1302.6 L64.6,1306 L70.8,1298.6" fill="none" stroke="#eef6f7" stroke-width="2.2" stroke-linecap="round" stroke-linejoin="round"/>
</g>
<g transform="translate(410 1262) scale(0.08333)" fill="#1f3e68">
<rect x="140" y="150" width="486" height="156" rx="36"/>
<path d="M322,282 H262 A34,34 0 0 1 262,214 H505 A34,34 0 0 1 505,282 H446" fill="none" stroke="#eef6f7" stroke-width="27"/>
<path d="M352,262 Q352,236 378,236 Q404,236 404,262 V350 L520,378 Q545,386 542,415 L520,580 H380 L288,400 Q285,388 300,388 L352,420 Z" stroke="#eef6f7" stroke-width="14"/>
<path d="M352,262 Q352,236 378,236 Q404,236 404,262 V350 L520,378 Q545,386 542,415 L520,580 H380 L288,400 Q285,388 300,388 L352,420 Z"/>
</g>
</svg>
</body></html>
